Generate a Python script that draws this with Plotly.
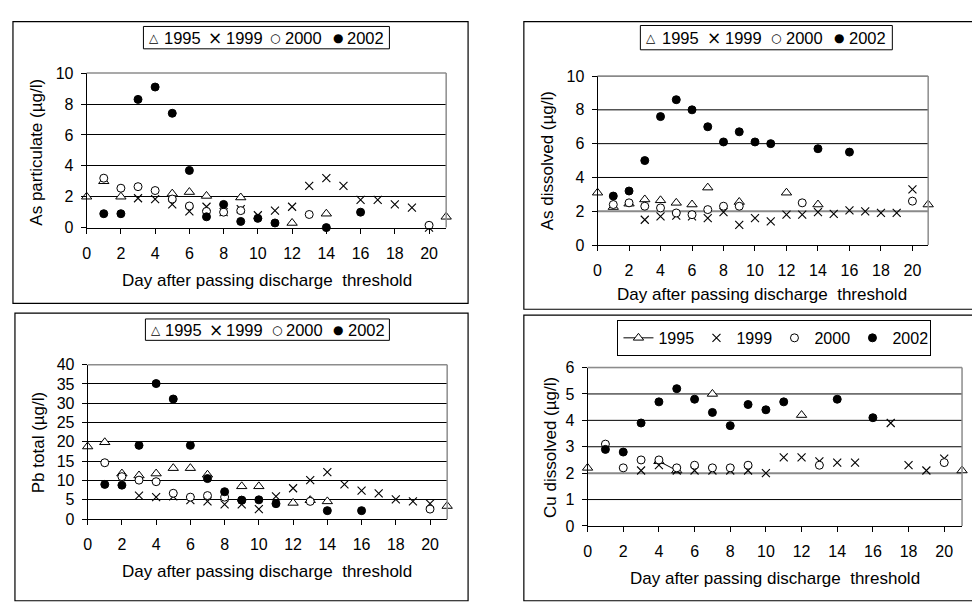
import plotly.graph_objects as go

W, H = 972, 602

# ---------------- data ----------------
years = ["1995", "1999", "2000", "2002"]

# Panel 1: As particulate (µg/l)
asp_1995_d = [0, 1, 2, 5, 6, 7, 9, 12, 14, 21]
asp_1995_v = [2.0, 3.0, 2.0, 2.2, 2.3, 2.05, 1.95, 0.3, 0.9, 0.7]
asp_1999_d = [3, 4, 5, 6, 7, 8, 9, 10, 11, 12, 13, 14, 15, 16, 17, 18, 19, 20]
asp_1999_v = [1.9, 1.85, 1.5, 1.05, 1.35, 1.0, 1.2, 0.8, 1.1, 1.35, 2.7, 3.2, 2.7, 1.8, 1.8, 1.5, 1.3, 0.0]
asp_2000_d = [1, 2, 3, 4, 5, 6, 7, 8, 9, 13, 20]
asp_2000_v = [3.2, 2.55, 2.65, 2.4, 1.85, 1.4, 1.05, 1.0, 1.1, 0.85, 0.15]
asp_2002_d = [1, 2, 3, 4, 5, 6, 7, 8, 9, 10, 11, 14, 16]
asp_2002_v = [0.9, 0.9, 8.3, 9.1, 7.4, 3.7, 0.7, 1.5, 0.4, 0.6, 0.3, 0.0, 1.0]

# Panel 2: As dissolved (µg/l)
asd_1995_d = [0, 1, 2, 3, 4, 5, 6, 7, 9, 12, 14, 21]
asd_1995_v = [3.1, 2.25, 2.45, 2.7, 2.65, 2.5, 2.4, 3.4, 2.55, 3.1, 2.4, 2.4]
asd_1999_d = [3, 4, 5, 6, 7, 8, 9, 10, 11, 12, 13, 14, 15, 16, 17, 18, 19, 20]
asd_1999_v = [1.5, 1.7, 1.75, 1.7, 1.6, 1.95, 1.2, 1.6, 1.4, 1.8, 1.8, 1.95, 1.85, 2.05, 2.0, 1.9, 1.9, 3.3]
asd_2000_d = [1, 2, 3, 4, 5, 6, 7, 8, 9, 13, 20]
asd_2000_v = [2.4, 2.5, 2.3, 2.2, 1.9, 1.8, 2.1, 2.3, 2.3, 2.5, 2.6]
asd_2002_d = [1, 2, 3, 4, 5, 6, 7, 8, 9, 10, 11, 14, 16]
asd_2002_v = [2.9, 3.2, 5.0, 7.6, 8.6, 8.0, 7.0, 6.1, 6.7, 6.1, 6.0, 5.7, 5.5]

# Panel 3: Pb total (µg/l)
pb_1995_d = [0, 1, 2, 3, 4, 5, 6, 7, 9, 10, 12, 13, 14, 21]
pb_1995_v = [18.8, 19.9, 11.8, 11.3, 11.8, 13.2, 13.2, 11.5, 8.5, 8.5, 4.2, 4.9, 4.6, 3.4]
pb_1999_d = [3, 4, 5, 6, 7, 8, 9, 10, 11, 12, 13, 14, 15, 16, 17, 18, 19, 20]
pb_1999_v = [6.1, 5.7, 5.9, 4.9, 4.6, 3.8, 3.8, 2.6, 5.9, 8.0, 10.1, 12.2, 9.0, 7.4, 6.7, 5.1, 4.6, 4.0]
pb_2000_d = [1, 2, 3, 4, 5, 6, 7, 8, 9, 13, 20]
pb_2000_v = [14.6, 11.0, 10.1, 9.7, 6.7, 5.7, 6.1, 5.7, 4.9, 4.6, 2.6]
pb_2002_d = [1, 2, 3, 4, 5, 6, 7, 8, 9, 10, 11, 14, 16]
pb_2002_v = [9.0, 8.8, 19.1, 35.1, 31.1, 19.1, 10.5, 7.1, 4.9, 5.0, 4.0, 2.2, 2.2]

# Panel 4: Cu dissolved (µg/l)
cu_1995_d = [0, 4, 5, 7, 12, 21]
cu_1995_v = [2.2, 2.45, 2.1, 5.0, 4.2, 2.1]
cu_1999_d = [3, 4, 5, 6, 7, 8, 9, 10, 11, 12, 13, 14, 15, 17, 18, 19, 20]
cu_1999_v = [2.1, 2.3, 2.1, 2.1, 2.1, 2.1, 2.1, 2.0, 2.6, 2.6, 2.45, 2.4, 2.4, 3.9, 2.3, 2.1, 2.55]
cu_2000_d = [1, 2, 3, 4, 5, 6, 7, 8, 9, 13, 20]
cu_2000_v = [3.1, 2.2, 2.5, 2.5, 2.2, 2.3, 2.2, 2.2, 2.3, 2.3, 2.4]
cu_2002_d = [1, 2, 3, 4, 5, 6, 7, 8, 9, 10, 11, 14, 16]
cu_2002_v = [2.9, 2.8, 3.9, 4.7, 5.2, 4.8, 4.3, 3.8, 4.6, 4.4, 4.7, 4.8, 4.1]

x_ticks = [0, 2, 4, 6, 8, 10, 12, 14, 16, 18, 20]
y_ticks_asp = [0, 2, 4, 6, 8, 10]
y_ticks_asd = [0, 2, 4, 6, 8, 10]
y_ticks_pb = [0, 5, 10, 15, 20, 25, 30, 35, 40]
y_ticks_cu = [0, 1, 2, 3, 4, 5, 6]
ref_level = 2  # grey reference level in the dissolved-As and Cu panels
x_max = 21

x_title = "Day after passing discharge\u00a0 threshold"
y_titles = ["As particulate (µg/l)", "As dissolved (µg/l)", "Pb total (µg/l)", "Cu dissolved (µg/l)"]
key_symbols = ["△", "×", "○", "●"]

# ---------------- layout geometry (pixels) ----------------
FONT = "Liberation Sans, Arial, sans-serif"
SYMFONT = "DejaVu Sans, Liberation Sans, sans-serif"
plots = [  # x0, x1, y0(top), y1(bottom)
    (83, 444, 67, 226),
    (596, 928, 70, 244),
    (84, 445, 367, 526),
    (586, 962, 370, 533),
]

def px(x):
    return x / W

def py(y):
    return 1 - y / H

marker_styles = {
    "1995": dict(symbol="triangle-up", size=9, color="white", line=dict(color="black", width=1)),
    "1999": dict(symbol="x-thin-open", size=8, color="black", line=dict(color="black", width=1.1)),
    "2000": dict(symbol="circle", size=8, color="white", line=dict(color="black", width=1)),
    "2002": dict(symbol="circle", size=8, color="black", line=dict(color="black", width=1)),
}

panels = [
    ([asp_1995_d, asp_1999_d, asp_2000_d, asp_2002_d], [asp_1995_v, asp_1999_v, asp_2000_v, asp_2002_v], y_ticks_asp),
    ([asd_1995_d, asd_1999_d, asd_2000_d, asd_2002_d], [asd_1995_v, asd_1999_v, asd_2000_v, asd_2002_v], y_ticks_asd),
    ([pb_1995_d, pb_1999_d, pb_2000_d, pb_2002_d], [pb_1995_v, pb_1999_v, pb_2000_v, pb_2002_v], y_ticks_pb),
    ([cu_1995_d, cu_1999_d, cu_2000_d, cu_2002_d], [cu_1995_v, cu_1999_v, cu_2000_v, cu_2002_v], y_ticks_cu),
]

fig = go.Figure()
layout = dict(
    width=W, height=H, margin=dict(l=0, r=0, t=0, b=0),
    paper_bgcolor="white", plot_bgcolor="white",
    font=dict(family=FONT, size=16, color="black"),
    showlegend=True,
)
shapes = []
annotations = []

for i, (days, vals, yt) in enumerate(panels):
    n = i + 1
    xa = "x" if n == 1 else f"x{n}"
    ya = "y" if n == 1 else f"y{n}"
    for k, yr in enumerate(years):
        if n == 4:
            if yr == "1995":
                full_x = list(range(0, x_max + 1))
                lookup = dict(zip(days[k], vals[k]))
                yy = [lookup.get(d) for d in full_x]
                fig.add_trace(go.Scatter(
                    x=full_x, y=yy, mode="lines+markers", name=yr,
                    line=dict(color="black", width=1), connectgaps=False,
                    marker=marker_styles[yr], xaxis=xa, yaxis=ya,
                    cliponaxis=False, legend="legend4", showlegend=True))
            else:
                fig.add_trace(go.Scatter(
                    x=days[k], y=vals[k], mode="markers", name=yr,
                    marker=marker_styles[yr], xaxis=xa, yaxis=ya,
                    cliponaxis=False, legend="legend4", showlegend=True))
        else:
            fig.add_trace(go.Scatter(
                x=days[k], y=vals[k], mode="markers", name=yr,
                marker=marker_styles[yr], xaxis=xa, yaxis=ya,
                cliponaxis=False, showlegend=False))

    x0, x1, y0, y1 = plots[i]
    xkey = "xaxis" if n == 1 else f"xaxis{n}"
    ykey = "yaxis" if n == 1 else f"yaxis{n}"
    grey_ref = n in (2, 4)
    layout[xkey] = dict(
        domain=[px(x0), px(x1)], range=[0, x_max], anchor=ya,
        tickmode="array", tickvals=x_ticks, ticks="outside", ticklen=5,
        tickcolor="black", showline=True, linecolor="black", linewidth=1,
        showgrid=False, zeroline=False, ticklabelstandoff=6,
        tickfont=dict(family=FONT, size=16, color="black"), fixedrange=True,
    )
    layout[ykey] = dict(
        domain=[py(y1), py(y0)], range=[0, yt[-1]], anchor=xa,
        tickmode="array", tickvals=yt, ticks="outside", ticklen=5,
        tickcolor="black", showline=True, linecolor="black", linewidth=1,
        showgrid=not grey_ref, gridcolor="black", gridwidth=1, zeroline=False,
        ticklabelstandoff=4,
        tickfont=dict(family=FONT, size=16, color="black"), fixedrange=True,
    )
    if grey_ref:
        # grid drawn beneath the markers, with the reference level in grey
        for t in yt[1:]:
            is_ref = (t == ref_level)
            shapes.append(dict(type="line", xref=xa, yref=ya,
                               x0=0, x1=x_max, y0=t, y1=t,
                               line=dict(color="#8a8a8a" if is_ref else "black",
                                         width=2 if is_ref else 1),
                               layer="below"))
    shapes.append(dict(type="line", xref="paper", yref="paper",
                       x0=px(x0), x1=px(x1), y0=py(y0), y1=py(y0),
                       line=dict(color="#8c8c8c", width=1.5), layer="above"))
    shapes.append(dict(type="line", xref="paper", yref="paper",
                       x0=px(x1), x1=px(x1), y0=py(y0), y1=py(y1),
                       line=dict(color="#8c8c8c", width=1.5), layer="above"))

# chart-area frames
frames = [(9, 14, 466, 304), (522, 14, 980, 310), (11, 314, 466, 610), (522, 316, 980, 610)]
for (a, b, c, d) in frames:
    shapes.append(dict(type="rect", xref="paper", yref="paper",
                       x0=px(a), x1=px(c), y0=py(d), y1=py(b),
                       line=dict(color="black", width=1.2), layer="below"))

# axis titles
xt_pos = [(264, 280), (761, 295), (264, 580), (774, 587)]
yt_pos = [(33, 148), (546, 157), (35, 447), (548, 452)]
for i in range(4):
    annotations.append(dict(text=x_title, x=px(xt_pos[i][0]), y=py(xt_pos[i][1]),
                            xref="paper", yref="paper", showarrow=False,
                            xanchor="center", yanchor="middle",
                            font=dict(family=FONT, size=17, color="black")))
    annotations.append(dict(text=y_titles[i], x=px(yt_pos[i][0]), y=py(yt_pos[i][1]),
                            xref="paper", yref="paper", showarrow=False, textangle=-90,
                            xanchor="center", yanchor="middle",
                            font=dict(family=FONT, size=17, color="black")))

# key boxes for the first three panels: box (x0, y0, x1, y1), symbol centres, label lefts
keys = [
    ((140, 19, 387, 42), [151, 212, 272.5, 335], [160, 222, 281, 343]),
    ((639, 18, 892, 43), [650, 713, 775, 838.5], [660, 723, 784, 847]),
    ((142, 320, 387, 342), [152.5, 213, 274, 335], [161, 222, 282, 344]),
]
sym_sizes = [12, 17, 12, 12]
for (box, scx, tlx) in keys:
    bx0, by0, bx1, by1 = box
    shapes.append(dict(type="rect", xref="paper", yref="paper",
                       x0=px(bx0), x1=px(bx1), y0=py(by1), y1=py(by0),
                       line=dict(color="black", width=1), fillcolor="white", layer="below"))
    cy = (by0 + by1) / 2
    for k, yr in enumerate(years):
        annotations.append(dict(text=key_symbols[k], x=px(scx[k]), y=py(cy), xref="paper", yref="paper",
                                showarrow=False, xanchor="center", yanchor="middle",
                                font=dict(family=SYMFONT, size=sym_sizes[k], color="black")))
        annotations.append(dict(text=yr, x=px(tlx[k] - 1), y=py(cy), xref="paper", yref="paper",
                                showarrow=False, xanchor="left", yanchor="middle",
                                font=dict(family=FONT, size=16.5, color="black")))

layout["legend4"] = dict(
    x=px(616), y=py(321), xanchor="left", yanchor="top", orientation="h",
    bordercolor="black", borderwidth=1, bgcolor="white",
    font=dict(family=FONT, size=16, color="black"),
    tracegroupgap=0, itemwidth=30, entrywidth=33, entrywidthmode="pixels",
)
layout["shapes"] = shapes
layout["annotations"] = annotations
fig.update_layout(**layout)

fig.write_html(
    "out.html",
    config={"displayModeBar": False},
    post_script="document.body.style.margin='0px';document.body.style.overflow='hidden';",
)
